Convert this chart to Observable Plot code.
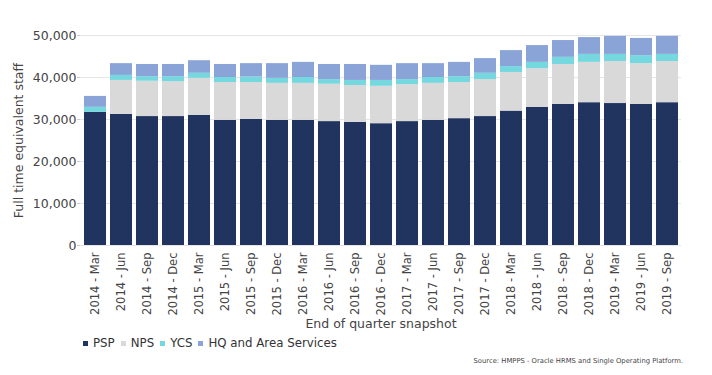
<!DOCTYPE html>
<html><head><meta charset="utf-8">
<script src="https://cdn.jsdelivr.net/npm/d3@7"></script>
<script src="https://cdn.jsdelivr.net/npm/@observablehq/plot@0.6"></script>
<style>
body{margin:0;background:#fff;font-family:"DejaVu Sans",sans-serif;}
#wrap{position:relative;width:712px;height:375px;overflow:hidden}
#legend{position:absolute;left:83px;top:335px;height:16px;display:flex;align-items:center;font-size:11.8px;color:#333}
#legend span.sw{display:inline-block;width:5px;height:5px;margin-right:5px}
#legend span.lab{margin-right:6px}
#source{position:absolute;right:29px;top:357px;font-size:6.8px;color:#444;font-family:"DejaVu Sans",sans-serif}
</style></head><body>
<div id="wrap"><div id="chart"></div><div id="legend"></div><div id="source">Source: HMPPS - Oracle HRMS and Single Operating Platform.</div></div>
<script>
const quarters = ["2014 - Mar","2014 - Jun","2014 - Sep","2014 - Dec","2015 - Mar","2015 - Jun","2015 - Sep","2015 - Dec","2016 - Mar","2016 - Jun","2016 - Sep","2016 - Dec","2017 - Mar","2017 - Jun","2017 - Sep","2017 - Dec","2018 - Mar","2018 - Jun","2018 - Sep","2018 - Dec","2019 - Mar","2019 - Jun","2019 - Sep"];
const seriesNames = ["PSP","NPS","YCS","HQ and Area Services"];
const seriesColors = ["#20345f","#d9d9d9","#76d8df","#8aa4d8"];
const psp = [31700,31200,30700,30700,31000,29800,30000,29800,29800,29500,29300,29000,29500,29800,30200,30700,32000,32900,33600,34000,33800,33600,34000];
const nps = [0,8100,8400,8300,8800,9000,8800,8800,8800,8900,8800,8900,8800,8800,8600,8800,9200,9200,9500,9600,10000,9700,9800];
const ycs = [1200,1200,1100,1200,1200,1200,1300,1200,1400,1100,1200,1400,1200,1400,1400,1500,1400,1500,1700,1900,1700,1900,1700];
const hq = [2600,2800,2900,2900,3000,3100,3200,3500,3600,3600,3800,3600,3800,3300,3400,3500,3800,4000,4000,4000,4300,4100,4300];
const yTicks = [0,10000,20000,30000,40000,50000];
const yTitle = "Full time equivalent staff";
const xTitle = "End of quarter snapshot";

const valuesBySeries = [psp, nps, ycs, hq];
const data = [];
seriesNames.forEach((s, i) => quarters.forEach((q, j) => data.push({quarter: q, series: s, value: valuesBySeries[i][j]})));

const chart = Plot.plot({
  width: 712,
  height: 335,
  marginTop: 35,
  marginBottom: 90,
  marginLeft: 80,
  marginRight: 31,
  style: {fontFamily: "DejaVu Sans, sans-serif", fontSize: "11.6px", color: "#333", background: "#fff"},
  x: {domain: quarters, paddingInner: 0.17, paddingOuter: 0},
  y: {domain: [0, 50000]},
  color: {domain: seriesNames, range: seriesColors},
  marks: [
    Plot.gridY(yTicks, {stroke: "#e6e6e6", strokeOpacity: 1}),
    Plot.barY(data, {x: "quarter", y: "value", fill: "series", order: seriesNames}),
    Plot.axisY(yTicks, {tickFormat: d3.format(","), tickSize: 3, tickPadding: 1, stroke: "#ccc", label: yTitle, labelArrow: "none", labelAnchor: "center", labelOffset: 66, fontSize: 12.5, fill: "#444"}),
    Plot.axisX({tickRotate: -90, tickSize: 0, tickPadding: 7, label: null, fill: "#444", fontSize: 11.5}),
    Plot.text([xTitle], {frameAnchor: "bottom", dy: 82, text: d => d, fontSize: 12.5, fill: "#444"})
  ]
});
document.getElementById("chart").appendChild(chart);

const legend = document.getElementById("legend");
seriesNames.forEach((s, i) => {
  const sw = document.createElement("span"); sw.className = "sw"; sw.style.background = seriesColors[i];
  const lab = document.createElement("span"); lab.className = "lab"; lab.textContent = s;
  legend.appendChild(sw); legend.appendChild(lab);
});
</script>
</body></html>
